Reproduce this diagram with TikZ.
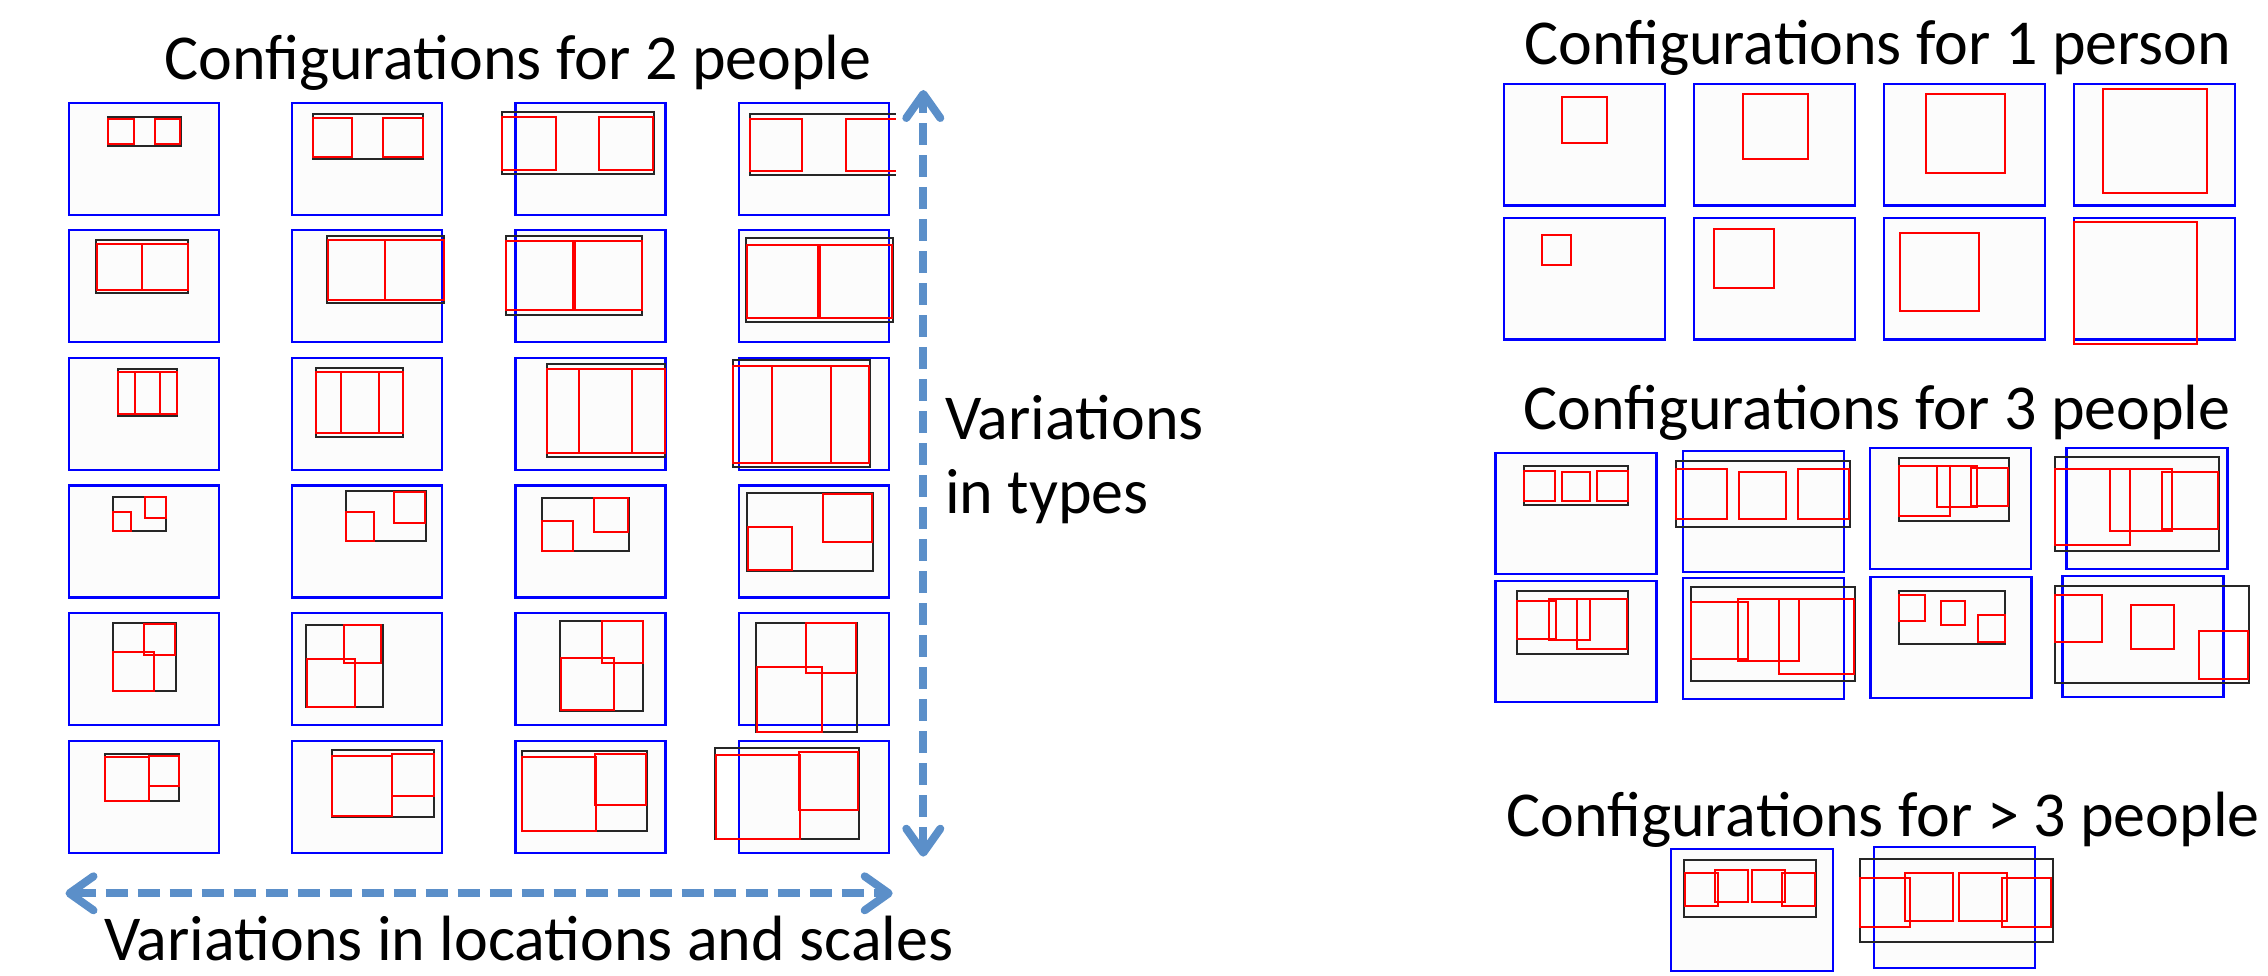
\documentclass[tikz,border=0pt]{standalone}
\usepackage{fontspec}
\setmainfont{Carlito}
\usepackage{tikz}
\usetikzlibrary{arrows.meta}
\definecolor{arrowblue}{RGB}{91,143,201}
\definecolor{shotfill}{RGB}{252,252,252}

\begin{document}
\begin{tikzpicture}[x=1pt,y=-1pt]
        \tikzstyle{view}=[draw=blue,line width=2.2pt,fill=shotfill]
        \tikzstyle{crowd}=[draw=black!85,line width=2pt]
        \tikzstyle{person}=[draw=red,line width=2pt]
        \tikzstyle{caption}=[inner sep=0pt,anchor=base west,font=\fontsize{64}{74}\selectfont]
        \tikzstyle{variation}=[arrowblue,line width=8pt,dash pattern=on 22pt off 10pt,
            {Straight Barb[length=24pt,width=34pt,round]}-{Straight Barb[length=24pt,width=34pt,round]}]
        \useasboundingbox (0,0) rectangle (2268,976);

        % titles
        \node[caption] (title2) at (164,80) {Configurations for 2 people};
        \node[caption] (title1) at (1524,65) {Configurations for 1 person};
        \node[caption] (title3) at (1523,429) {Configurations for 3 people};
        \node[caption] (title4) at (1506,836) {Configurations for > 3 people};
        \node[caption,align=left] (types) at (945,513.3) {Variations\\in types};
        \node[caption] (scales) at (104,960.7) {Variations in locations and scales};

        % 2 people: frames
        \foreach \i in {0,...,3}
            \foreach \j in {0,...,5}
                \draw[view] ({69+223.2*\i},{102.7+127.6*\j}) rectangle +(150,112);

        % row 1
        \draw[crowd] (107.7,116.7) rectangle (181,145.7);
        \draw[person] (108.3,119) rectangle (134,144) (155,119) rectangle (180,144);
        \draw[crowd] (312.7,113.7) rectangle (422.7,159);
        \draw[person] (312.7,117.7) rectangle (352,156.7) (383.3,117.7) rectangle (422.7,156.7);
        \draw[crowd] (501.7,112.3) rectangle (653.7,174);
        \draw[person] (502.3,116.7) rectangle (556,170) (599,116.7) rectangle (653,170);
        \draw[crowd] (895.7,113.7) -- (749.7,113.7) -- (749.7,174.7) -- (895.7,174.7);
        \draw[person] (750.3,118.7) rectangle (802.3,170.7);
        \draw[person] (895.7,118.7) -- (845.7,118.7) -- (845.7,170.7) -- (895.7,170.7);
        % row 2
        \draw[crowd] (96,239.7) rectangle (188,292.7);
        \draw[person] (96.7,243.7) rectangle (142.3,290) (142.3,243.7) rectangle (188,290);
        \draw[crowd] (326.7,235.7) rectangle (444.3,303.3);
        \draw[person] (327.7,240.3) rectangle (385.3,299.7) (385.3,240.3) rectangle (444,299.7);
        \draw[crowd] (505.7,235.7) rectangle (641.7,314.7);
        \draw[person] (505.7,241) rectangle (573.3,310) (574.7,241) rectangle (641.7,310);
        \draw[crowd] (746,238) rectangle (893,322.3);
        \draw[person] (746.7,245) rectangle (818.3,318.3) (820,245) rectangle (892,318.3);
        % row 3
        \draw[crowd] (117.7,369.3) rectangle (177.3,415.7);
        \draw[person] (118.3,371.7) rectangle (160.3,414) (134.7,371.7) rectangle (177.3,414);
        \draw[crowd] (315.7,367.7) rectangle (403.3,436.7);
        \draw[person] (315.7,371.7) rectangle (378.7,433.3) (341,371.7) rectangle (403.3,433.3);
        \draw[crowd] (546.7,364) rectangle (664.7,456.7);
        \draw[person] (546.7,369.3) rectangle (631.7,452.7) (579.3,369.3) rectangle (664.7,452.7);
        \draw[crowd] (733.3,360) rectangle (870,467.3);
        \draw[person] (733.3,366) rectangle (830.7,462.7) (772,366) rectangle (869,462.7);
        % row 4
        \draw[crowd] (112.7,496.7) rectangle (166,530.7);
        \draw[person] (112.7,511.7) rectangle (131.3,530.7) (144.7,496.7) rectangle (166,518);
        \draw[crowd] (345.7,490.7) rectangle (426,540.7);
        \draw[person] (346.3,512.3) rectangle (374,540.7) (393.7,491.7) rectangle (425,522.7);
        \draw[crowd] (541.7,497.7) rectangle (629.3,551.3);
        \draw[person] (541.7,521) rectangle (572.7,550.7) (594,497.7) rectangle (628.3,532);
        \draw[crowd] (747.3,493) rectangle (873.3,571);
        \draw[person] (748,526.7) rectangle (792.3,570) (822.7,494) rectangle (872.3,542);
        % row 5
        \draw[crowd] (112.7,622.7) rectangle (176.3,691.3);
        \draw[person] (113.3,651.7) rectangle (153.7,691.3) (144,623.7) rectangle (175.3,654.7);
        \draw[crowd] (306.3,625) rectangle (382.7,707.3);
        \draw[person] (307,659) rectangle (355.3,706.7) (344,625) rectangle (381.3,662.7);
        \draw[crowd] (560,621) rectangle (643.3,711);
        \draw[person] (560.7,658) rectangle (613.7,710) (601.7,621) rectangle (642.7,662.7);
        \draw[crowd] (756,622.7) rectangle (857.3,731.7);
        \draw[person] (756.7,667.3) rectangle (821.7,731.7) (806,622.7) rectangle (856,672.7);
        % row 6
        \draw[crowd] (104.7,753.7) rectangle (179.3,801);
        \draw[person] (105.3,756.7) rectangle (149.3,801) (148.7,755.7) rectangle (179,786);
        \draw[crowd] (331.7,750.3) rectangle (434.3,816.7);
        \draw[person] (331.7,755.7) rectangle (392.3,815.7) (392.3,753.7) rectangle (434,795.7);
        \draw[crowd] (522.3,751) rectangle (647.3,830.7);
        \draw[person] (522.3,756.7) rectangle (596,830.7) (595.3,754.3) rectangle (646.3,805);
        \draw[crowd] (715.3,747.7) rectangle (859,839.3);
        \draw[person] (716,755) rectangle (800,838.7) (799.3,751.7) rectangle (858.3,810.3);

        % 1 person
        \foreach \i in {0,...,3}
            \foreach \y in {84.3,218.3}
                \draw[view] ({1503.75+190*\i},\y) rectangle +(161.6,121.3);
        \draw[person] (1562.2,97) rectangle (1606.9,142.7);
        \draw[person] (1742.9,94.3) rectangle (1807.7,159);
        \draw[person] (1926.1,94.3) rectangle (2004.6,172.7);
        \draw[person] (2102.8,88.7) rectangle (2207,192.7);
        \draw[person] (1542.1,235) rectangle (1571,264.7);
        \draw[person] (1714.4,228.7) rectangle (1773.8,288);
        \draw[person] (1900,233) rectangle (1979.1,311);
        \draw[person] (2074.4,221.7) rectangle (2197.1,344);

        % 3 people
        \foreach \x/\y in {1495.4/452.7,1683/450.7,1870/448,2066.5/448.3,
                           1495.4/581,1683/578.3,1870.5/576.7,2062.5/576.3}
            \draw[view] (\x,\y) rectangle +(161,121);
        \draw[crowd] (1524.3,465.7) rectangle (1627.7,505);
        \draw[person] (1524.3,470.7) rectangle (1554.6,500.7) (1561.6,472.3) rectangle (1590.4,500.7)
            (1597.4,470.7) rectangle (1627.7,500.7);
        \draw[crowd] (1675.5,461) rectangle (1850.1,527);
        \draw[person] (1675.5,469) rectangle (1726.7,519.3) (1738.7,471.7) rectangle (1786.4,519.3)
            (1798.4,469) rectangle (1849.1,519.3);
        \draw[crowd] (1898.8,458) rectangle (2008.8,520.7);
        \draw[person] (1898.8,465.7) rectangle (1950.1,516.3) (1936.7,465.7) rectangle (1977.4,507.3)
            (1971,468) rectangle (2008.3,506);
        \draw[crowd] (2054.5,456.7) rectangle (2219.2,551);
        \draw[person] (2054.5,469) rectangle (2130.2,544.7) (2110.3,469) rectangle (2171.9,530.7)
            (2162,472.3) rectangle (2217.7,528.7);
        \draw[crowd] (1517.3,590.7) rectangle (1627.7,653.7);
        \draw[person] (1517.3,601.3) rectangle (1555.6,638.7) (1549.1,598.7) rectangle (1589.9,640)
            (1576.5,598.7) rectangle (1627.2,649.3);
        \draw[crowd] (1691.4,586.7) rectangle (1855.1,680.7);
        \draw[person] (1691.4,602.3) rectangle (1748.1,658.7) (1737.7,598.7) rectangle (1799.4,660.7)
            (1779,599) rectangle (1854.1,674.3);
        \draw[crowd] (1898.8,590.7) rectangle (2005.3,643.7);
        \draw[person] (1898.8,595.3) rectangle (1925.2,621) (1941.1,601) rectangle (1964.5,625)
            (1977.9,614.7) rectangle (2004.8,642);
        \draw[crowd] (2054.5,586) rectangle (2249,683);
        \draw[person] (2054.5,595) rectangle (2101.8,642) (2130.7,605) rectangle (2173.9,648.7)
            (2199.3,630.7) rectangle (2247.5,679);

        % more than 3 people
        \draw[view] (1671.3,849) rectangle (1833,970.7);
        \draw[crowd] (1684,859.7) rectangle (1816,916.7);
        \draw[person] (1684.7,872.7) rectangle (1718.3,906.3) (1715,869.7) rectangle (1748,902)
            (1751.7,869.7) rectangle (1785,902) (1781.7,872.7) rectangle (1814.7,906.3);
        \draw[view] (1873.7,847) rectangle (2035,967.7);
        \draw[crowd] (1859.7,859) rectangle (2052.7,941.7);
        \draw[person] (1860.3,877.7) rectangle (1910,927) (1904.7,873) rectangle (1953.3,921)
            (1959,873) rectangle (2007.3,921) (2002.3,877.7) rectangle (2051,927);

        % variation arrows
        \coordinate (typetop) at (923.3,90);
        \coordinate (typebot) at (923.3,856.7);
        \coordinate (scaleleft) at (65.5,893.3);
        \coordinate (scaleright) at (892.7,893.3);
        \draw[variation] (typebot) -- (typetop);
        \draw[variation] (scaleleft) -- (scaleright);
\end{tikzpicture}
\end{document}
